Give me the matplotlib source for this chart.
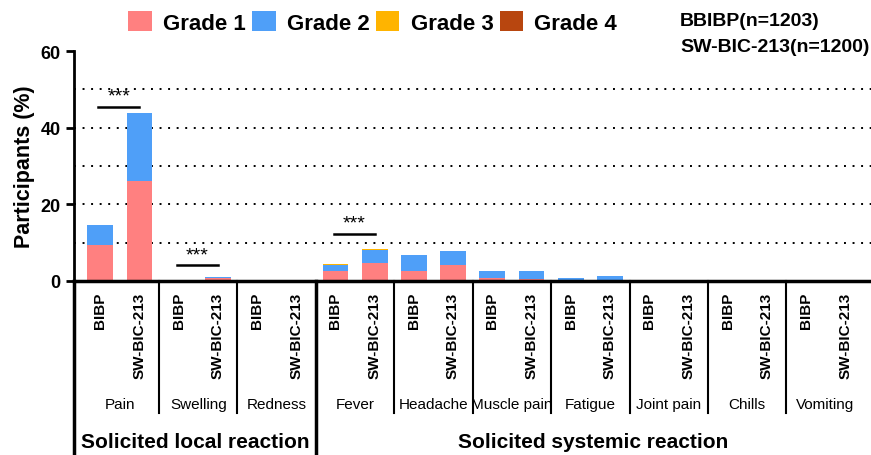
import matplotlib
matplotlib.use("Agg")
import matplotlib.pyplot as plt
import numpy as np
from matplotlib.patches import Patch

plt.rcParams['font.family'] = ['Liberation Sans', 'DejaVu Sans']

symptoms = ['Pain', 'Swelling', 'Redness', 'Fever', 'Headache',
            'Muscle pain', 'Fatigue', 'Joint pain', 'Chills', 'Vomiting']
vaccines = ['BIBP', 'SW-BIC-213']
categories = ['Solicited local reaction', 'Solicited systemic reaction']
n_local = 3

# one value per bar: symptom x vaccine (BIBP, SW-BIC-213)
grade1 = [9.4, 26.0, 0.0, 0.8, 0.0, 0.0, 2.5, 4.8, 2.6, 4.3,
          0.8, 0.6, 0.3, 0.35, 0.0, 0.0, 0.0, 0.0, 0.0, 0.0]
grade2 = [5.2, 17.7, 0.0, 0.3, 0.0, 0.0, 1.8, 3.4, 4.1, 3.5,
          1.9, 1.9, 0.45, 0.9, 0.0, 0.0, 0.0, 0.0, 0.0, 0.0]
grade3 = [0.0, 0.0, 0.0, 0.0, 0.0, 0.0, 0.05, 0.05, 0.0, 0.0,
          0.0, 0.0, 0.0, 0.0, 0.0, 0.0, 0.0, 0.0, 0.0, 0.0]
grade4 = [0.0] * 20

grade_names = ['Grade 1', 'Grade 2', 'Grade 3', 'Grade 4']
grade_colors = ['#FF8080', '#4F9FF8', '#FFB400', '#B8460F']

# significance: (bar a, bar b, height of bracket)
sig_pairs = [(0, 1, 45.5), (2, 3, 4.2), (6, 7, 12.3)]

fig = plt.figure(figsize=(8.71, 4.56), dpi=100)
ax = fig.add_axes([74 / 871, 1 - 282 / 456, 797 / 871, 230 / 456])

x = np.arange(len(grade1))
bottom = np.zeros(len(x))
for vals, col in zip([grade1, grade2, grade3, grade4], grade_colors):
    ax.bar(x, vals, width=0.66, bottom=bottom, color=col, edgecolor='none')
    bottom += np.array(vals)

ax.set_xlim(-0.67, 19.66)
ax.set_ylim(0, 60)
ax.set_yticks([0, 20, 40, 60])
ax.set_yticklabels(['0', '20', '40', '60'], fontsize=13, fontweight='bold')
for yv in [10, 20, 30, 40, 50]:
    ax.axhline(yv, color='black', lw=1.4, ls=(0, (1, 3.4)), zorder=0)

ax.set_xticks(x)
ax.set_xticklabels(vaccines * len(symptoms), rotation=90, fontsize=11,
                   fontweight='bold', va='top')
ax.tick_params(axis='x', length=0, pad=8)
ax.tick_params(axis='y', width=2, length=6)
for s in ['top', 'right']:
    ax.spines[s].set_visible(False)
ax.spines['left'].set_linewidth(2)
ax.spines['bottom'].set_linewidth(2.5)
ax.set_ylabel('Participants (%)', fontsize=15.5, fontweight='bold', labelpad=4)

# significance brackets
for a, b, h in sig_pairs:
    ax.plot([a - 0.05, b], [h, h], color='black', lw=1.8)
    ax.text((a + b) / 2 - 0.02, h + 0.5, '***', ha='center', va='bottom', fontsize=14)

# lower table of labels
tr = ax.get_xaxis_transform()
ax.plot([-0.67, -0.67], [0, -0.76], transform=tr, color='black', lw=2.5, clip_on=False)
for k in range(1, len(symptoms)):
    sx = 2 * k - 0.5
    if k == n_local:
        ax.plot([sx, sx], [0, -0.76], transform=tr, color='black', lw=2.5, clip_on=False)
    else:
        ax.plot([sx, sx], [0, -0.575], transform=tr, color='black', lw=1.5, clip_on=False)
for k, name in enumerate(symptoms):
    ax.text(2 * k + 0.5, -0.535, name, transform=tr, ha='center', va='center',
            fontsize=11)
ax.text((-0.67 + 2 * n_local - 0.5) / 2, -0.70, categories[0], transform=tr,
        ha='center', va='center', fontsize=15, fontweight='bold')
ax.text((2 * n_local - 0.5 + 19.66) / 2, -0.70, categories[1], transform=tr,
        ha='center', va='center', fontsize=15, fontweight='bold')

# legend and group sizes
handles = [Patch(facecolor=c, edgecolor='none') for c in grade_colors]
fig.legend(handles, grade_names, loc='center', bbox_to_anchor=(0.428, 0.948),
           ncol=4, frameon=False, prop={'size': 16, 'weight': 'bold'},
           handlelength=1.05, handleheight=1.0, handletextpad=0.5,
           columnspacing=0.3, borderaxespad=0)
fig.text(680 / 871, 1 - 22 / 456, 'BBIBP(n=1203)', fontsize=14,
         fontweight='bold', va='center', ha='left')
fig.text(680 / 871, 1 - 48 / 456, 'SW-BIC-213(n=1200)', fontsize=14,
         fontweight='bold', va='center', ha='left')

fig.savefig('out.png', dpi=100)
